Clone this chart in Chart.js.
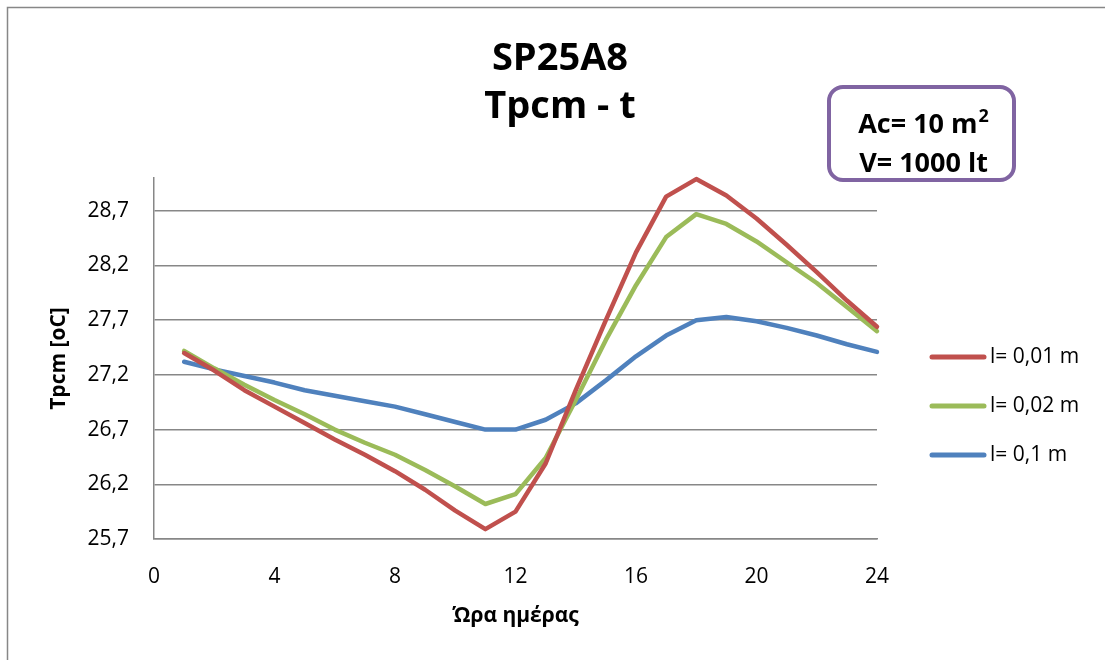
<!DOCTYPE html>
<html>
<head>
<meta charset="utf-8">
<title>SP25A8 Tpcm - t</title>
<script src="https://cdn.jsdelivr.net/npm/chart.js@4.4.1/dist/chart.umd.min.js"></script>
<style>
  html, body { margin: 0; padding: 0; background: #ffffff; }
  #wrap { width: 1105px; height: 660px; position: relative; }
</style>
</head>
<body>
<div id="wrap"><canvas id="chart" width="1105" height="660"></canvas></div>
<script>
// Hour of the day (x values)
const hours = [1, 2, 3, 4, 5, 6, 7, 8, 9, 10, 11, 12, 13, 14, 15, 16, 17, 18, 19, 20, 21, 22, 23, 24];

// PCM temperature [oC] for each layer thickness
const tpcmL001 = [27.40, 27.24, 27.06, 26.91, 26.76, 26.61, 26.47, 26.32, 26.15, 25.96, 25.79, 25.95,
                  26.39, 27.06, 27.70, 28.32, 28.83, 28.99, 28.84, 28.63, 28.39, 28.14, 27.88, 27.64];
const tpcmL002 = [27.42, 27.26, 27.11, 26.97, 26.84, 26.70, 26.58, 26.47, 26.33, 26.18, 26.02, 26.11,
                  26.44, 26.97, 27.52, 28.02, 28.46, 28.67, 28.58, 28.42, 28.23, 28.04, 27.82, 27.60];
const tpcmL01  = [27.32, 27.25, 27.19, 27.13, 27.06, 27.01, 26.96, 26.91, 26.84, 26.77, 26.70, 26.70,
                  26.79, 26.94, 27.15, 27.37, 27.56, 27.70, 27.73, 27.69, 27.63, 27.56, 27.48, 27.41];

const seriesLabels = ['l= 0,01 m', 'l= 0,02 m', 'l= 0,1 m'];
const seriesColors = ['#C0504D', '#9BBB59', '#4F81BD'];

// Axis ticks
const xTicks = [0, 4, 8, 12, 16, 20, 24];
const yTicks = [25.7, 26.2, 26.7, 27.2, 27.7, 28.2, 28.7];
const yMin = 25.7;
const yMax = 29.0;

// Texts
const titleLines = ['SP25A8', 'Tpcm - t'];
const xTitle = 'Ώρα ημέρας';
const yTitle = 'Tpcm [oC]';
const noteArea = { text: 'Ac= 10 m', sup: '2' };
const noteVolume = 'V= 1000 lt';

const FONT = "'Open Sans', 'Noto Sans', sans-serif";
const GRID = '#878787';

function toPoints(values) {
  return hours.map((h, i) => ({ x: h, y: values[i] }));
}

// Frame, title, note box and legend
const decorations = {
  id: 'decorations',
  beforeDraw(chart) {
    const ctx = chart.ctx;
    ctx.save();
    ctx.fillStyle = '#ffffff';
    ctx.fillRect(0, 0, chart.width, chart.height);
    ctx.strokeStyle = GRID;
    ctx.lineWidth = 1.5;
    ctx.beginPath();
    ctx.moveTo(7.5, chart.height + 2);
    ctx.lineTo(7.5, 7.5);
    ctx.lineTo(chart.width + 2, 7.5);
    ctx.stroke();
    ctx.restore();
  },
  afterDraw(chart) {
    const ctx = chart.ctx;
    ctx.save();
    ctx.fillStyle = '#000000';
    ctx.textAlign = 'center';
    ctx.textBaseline = 'alphabetic';

    // Chart title
    ctx.font = 'bold 38px ' + FONT;
    ctx.fillText(titleLines[0], 560, 70);
    ctx.fillText(titleLines[1], 560, 118);

    // Note box
    ctx.strokeStyle = '#8064A2';
    ctx.lineWidth = 4;
    ctx.beginPath();
    ctx.roundRect(829, 87, 185, 93, 14);
    ctx.stroke();

    ctx.font = 'bold 27px ' + FONT;
    const mainW = ctx.measureText(noteArea.text).width;
    ctx.font = 'bold 18px ' + FONT;
    const supW = ctx.measureText(noteArea.sup).width;
    const startX = 923.5 - (mainW + supW + 1) / 2;
    ctx.textAlign = 'left';
    ctx.font = 'bold 27px ' + FONT;
    ctx.fillText(noteArea.text, startX, 133);
    ctx.font = 'bold 18px ' + FONT;
    ctx.fillText(noteArea.sup, startX + mainW + 1, 122);
    ctx.textAlign = 'center';
    ctx.font = 'bold 27px ' + FONT;
    ctx.fillText(noteVolume, 923.5, 172);

    // Legend
    const rows = [357, 406, 455];
    ctx.textAlign = 'left';
    ctx.textBaseline = 'middle';
    ctx.font = '21px ' + FONT;
    chart.data.datasets.forEach((ds, i) => {
      ctx.strokeStyle = ds.borderColor;
      ctx.lineWidth = 5;
      ctx.lineCap = 'round';
      ctx.beginPath();
      ctx.moveTo(932, rows[i]);
      ctx.lineTo(984, rows[i]);
      ctx.stroke();
      ctx.fillStyle = '#000000';
      ctx.fillText(ds.label, 990, rows[i]);
    });
    ctx.restore();
  }
};

function draw() {
  Chart.defaults.font.family = FONT;
  Chart.defaults.color = '#000000';

  const seriesValues = [tpcmL001, tpcmL002, tpcmL01];
  new Chart(document.getElementById('chart'), {
    type: 'line',
    data: {
      datasets: seriesValues.map((vals, i) => ({
        label: seriesLabels[i],
        data: toPoints(vals),
        borderColor: seriesColors[i],
        backgroundColor: seriesColors[i],
        borderWidth: 4.5,
        pointRadius: 0,
        pointHoverRadius: 0,
        tension: 0,
        fill: false,
        clip: false,
        borderJoinStyle: 'round',
        borderCapStyle: 'round'
      }))
    },
    options: {
      responsive: false,
      animation: false,
      devicePixelRatio: 1,
      layout: { padding: { left: 8, top: 178, right: 228, bottom: 0 } },
      plugins: {
        legend: { display: false },
        title: { display: false },
        tooltip: { enabled: false }
      },
      scales: {
        x: {
          type: 'linear',
          min: 0,
          max: 24,
          afterBuildTicks: s => { s.ticks = xTicks.map(v => ({ value: v })); },
          afterFit: s => { s.height = 121; },
          grid: { display: false, drawTicks: false },
          border: { display: true, color: GRID, width: 1.5 },
          ticks: {
            padding: 25,
            autoSkip: false,
            maxRotation: 0,
            color: '#000000',
            font: { size: 21 }
          },
          title: {
            display: true,
            text: xTitle,
            color: '#000000',
            font: { size: 21, weight: 'bold' },
            padding: { top: 0, bottom: 31 }
          }
        },
        y: {
          type: 'linear',
          min: yMin,
          max: yMax,
          afterBuildTicks: s => { s.ticks = yTicks.map(v => ({ value: v })); },
          afterFit: s => { s.width = 146; },
          grid: { color: GRID, lineWidth: 1.5, drawTicks: false },
          border: { display: true, color: GRID, width: 1.5 },
          ticks: {
            padding: 25,
            color: '#000000',
            font: { size: 21 },
            callback: v => v.toFixed(1).replace('.', ',')
          },
          title: {
            display: true,
            text: yTitle,
            color: '#000000',
            font: { size: 21, weight: 'bold' },
            padding: { top: 38, bottom: 0 }
          }
        }
      }
    },
    plugins: [decorations]
  });
}

if (document.fonts && document.fonts.load) {
  Promise.all([
    document.fonts.load("20px 'Open Sans'"),
    document.fonts.load("bold 20px 'Open Sans'")
  ]).then(draw, draw);
} else {
  draw();
}
</script>
</body>
</html>
